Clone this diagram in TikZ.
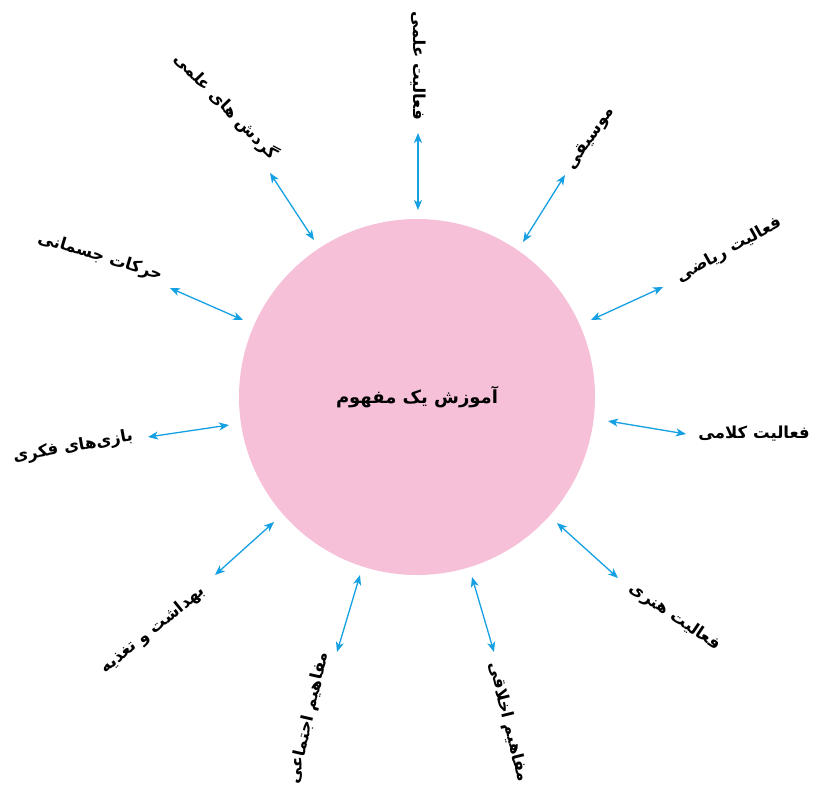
\documentclass[tikz,border=0pt]{standalone}
\usepackage{fontspec}
\newfontfamily\fa[Script=Arabic]{DejaVu Sans}
\TeXXeTstate=1
\usetikzlibrary{arrows.meta}
\definecolor{arrowblue}{RGB}{20,160,226}
\definecolor{circpink}{RGB}{246,192,217}
\begin{document}
\begin{tikzpicture}[x=1pt,y=-1pt,
  lbl/.style={font=\fa\bfseries\fontsize{16.5}{19}\selectfont, inner sep=0pt},
  link/.style={draw=arrowblue, line width=1.3pt, {Stealth[length=10pt,width=8pt,inset=2.8pt]}-{Stealth[length=10pt,width=8pt,inset=2.8pt]}}]
\useasboundingbox (0,0) rectangle (813,785);
\node[circle, fill=circpink, minimum size=356pt, inner sep=0pt,
      font=\fa\bfseries\fontsize{18}{21}\selectfont] (c) at (417,397) {\beginR آموزش یک مفهوم\endR};
% labels
\node[lbl, rotate=-90] (l1) at (418,66) {\beginR فعالیت علمی\endR};
\node[lbl, rotate=-46] (l2) at (226,106) {\beginR گردش های علمی\endR};
\node[lbl, rotate=56] (l3) at (591,139) {\beginR موسیقی\endR};
\node[lbl, rotate=29] (l4) at (729,250) {\beginR فعالیت ریاضی\endR};
\node[lbl, rotate=-17] (l5) at (100,257) {\beginR حرکات جسمانی\endR};
\node[lbl] (l6) at (754,434) {\beginR فعالیت کلامی\endR};
\node[lbl, rotate=10] (l7) at (73,447) {\beginR بازی‌های فکری\endR};
\node[lbl, rotate=39] (l8) at (153,630) {\beginR بهداشت و تغذیه\endR};
\node[lbl, rotate=-34] (l9) at (675,617) {\beginR فعالیت هنری\endR};
\node[lbl, rotate=77] (l10) at (309,718) {\beginR مفاهیم اجتماعی\endR};
\node[lbl, rotate=-76] (l11) at (508,722) {\beginR مفاهیم اخلاقی\endR};
% arrow ends
\coordinate (a1) at (418,133); \coordinate (b1) at (418,210);
\coordinate (a2) at (270,173); \coordinate (b2) at (314,240);
\coordinate (a3) at (565,175); \coordinate (b3) at (523,242);
\coordinate (a4) at (663,287); \coordinate (b4) at (591,320);
\coordinate (a5) at (170,288); \coordinate (b5) at (243,320);
\coordinate (a6) at (686,434); \coordinate (b6) at (608,421);
\coordinate (a7) at (148,437); \coordinate (b7) at (229,425);
\coordinate (a8) at (215,575); \coordinate (b8) at (274,522);
\coordinate (a9) at (618,578); \coordinate (b9) at (557,523);
\coordinate (a10) at (337,652); \coordinate (b10) at (360,575);
\coordinate (a11) at (494,652); \coordinate (b11) at (472,577);
\foreach \i in {1,...,11} \draw[link] (a\i) -- (b\i);
\end{tikzpicture}
\end{document}
